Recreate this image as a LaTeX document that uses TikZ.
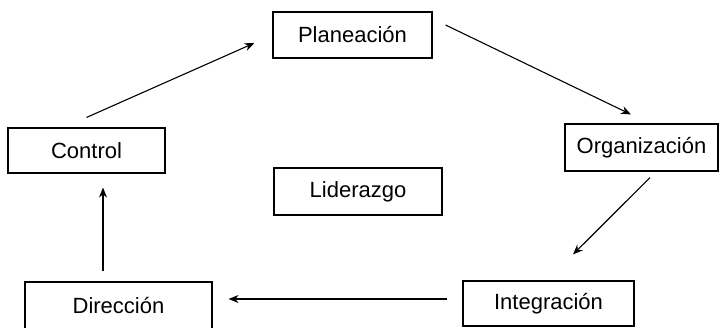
\documentclass[tikz,border=0pt]{standalone}
\usepackage{fontspec}
\setmainfont{Liberation Sans}
\usetikzlibrary{calc,arrows.meta}
\begin{document}
\begin{tikzpicture}[x=1pt,y=-1pt,
  box/.style={draw=black,line width=1.1pt,rectangle,inner sep=0pt,
    font=\fontsize{22}{26}\selectfont},
  arr/.style={line width=1.1pt,-{Stealth[length=10pt,width=8pt]}}]
\useasboundingbox (0,0) rectangle (721,327);
\clip (0,0) rectangle (721,327);
\node[box,minimum width=159pt,minimum height=46pt] (pla) at (352.5,35) {Planeación};
\node[box,minimum width=157pt,minimum height=45pt] (ctl) at (86.5,150.5) {Control};
\node[box,minimum width=153pt,minimum height=47pt] (org) at (641.5,147.5) {Organización};
\node[box,minimum width=168pt,minimum height=47pt] (lid) at (358,191.5) {Liderazgo};
\node[box,minimum width=187pt,minimum height=48pt] (dir) at (118.5,306) {\raisebox{0pt}{Dirección}};
\node[box,minimum width=171pt,minimum height=45pt] (int) at (548.5,303.5) {Integración};
\draw[arr] ($(ctl.north)+(0,-10)$) -- ($(pla.west)+(-18,8)$);
\draw[arr] ($(pla.east)+(13,-10)$) -- ($(org.north)+(-10.5,-9)$);
\draw[arr] ($(org.south)+(8.5,6)$) -- ($(int.north)+(24.5,-26)$);
\draw[arr] ($(int.west)+(-15,-4.5)$) -- ($(dir.east)+(16,-7)$);
\draw[arr] ($(dir.north)+(-15.5,-10)$) -- ($(ctl.south)+(16.5,14)$);
\end{tikzpicture}
\end{document}
